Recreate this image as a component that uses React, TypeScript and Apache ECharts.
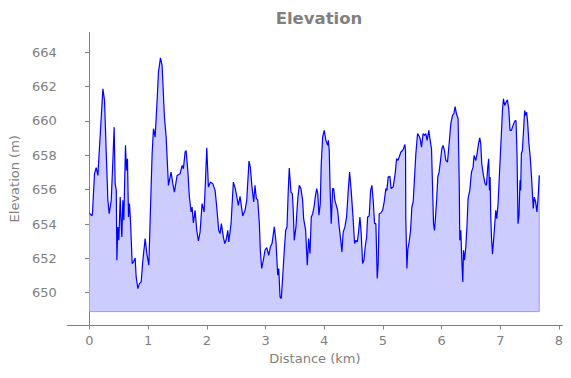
import React, { useEffect, useRef } from "react";
import * as echarts from "echarts";

const distanceKm: number[] = [
  0, 0.04, 0.05, 0.085, 0.114, 0.143, 0.17, 0.2, 0.228, 0.256, 0.284, 0.313, 0.335, 0.37, 0.398, 0.42,
  0.437, 0.456, 0.466, 0.483, 0.5, 0.523, 0.54, 0.551, 0.568, 0.585, 0.596, 0.613, 0.63, 0.647, 0.664,
  0.681, 0.698, 0.727, 0.75, 0.778, 0.795, 0.824, 0.851, 0.88, 0.909, 0.948, 0.977, 1.011, 1.038, 1.067,
  1.09, 1.118, 1.152, 1.175, 1.209, 1.237, 1.277, 1.306, 1.345, 1.39, 1.42, 1.447, 1.493, 1.544,
  1.578, 1.6, 1.629, 1.646, 1.675, 1.702, 1.731, 1.748, 1.77, 1.799, 1.828, 1.855, 1.884, 1.918, 1.952,
  1.974, 1.998, 2.026, 2.06, 2.1, 2.14, 2.168, 2.202, 2.225, 2.247, 2.281, 2.305, 2.327, 2.356, 2.373,
  2.412, 2.451, 2.485, 2.536, 2.565, 2.611, 2.65, 2.679, 2.718, 2.74, 2.769, 2.798, 2.82, 2.843, 2.866,
  2.894, 2.911, 2.934, 2.962, 2.99, 3.02, 3.054, 3.081, 3.11, 3.149,
  3.178, 3.207, 3.225, 3.246, 3.268, 3.292, 3.319, 3.343, 3.365, 3.387, 3.404, 3.433, 3.456, 3.472,
  3.489, 3.518, 3.547, 3.574, 3.603, 3.632, 3.649, 3.683, 3.711, 3.734, 3.757, 3.779, 3.803, 3.83,
  3.847, 3.871, 3.89, 3.91, 3.932, 3.949, 3.973, 4.0, 4.029, 4.058, 4.07, 4.085, 4.1, 4.119, 4.143,
  4.16, 4.182, 4.205, 4.228, 4.255, 4.284, 4.301, 4.323, 4.352, 4.381, 4.409, 4.432, 4.459, 4.488,
  4.517, 4.54, 4.563, 4.585, 4.608, 4.63, 4.654, 4.676, 4.698, 4.722, 4.739, 4.766, 4.79,
  4.812, 4.834, 4.858, 4.88, 4.903, 4.919, 4.936, 4.965, 4.994, 5.021, 5.05, 5.068, 5.089, 5.118,
  5.14, 5.174, 5.209, 5.232, 5.255, 5.277, 5.306, 5.334, 5.35, 5.374, 5.385, 5.39, 5.408, 5.425,
  5.447, 5.471, 5.493, 5.515, 5.539, 5.561, 5.59, 5.61, 5.634, 5.657, 5.685, 5.71, 5.731, 5.753,
  5.782, 5.805, 5.828, 5.845, 5.862, 5.879, 5.896, 5.918, 5.935, 5.957, 5.981, 6.003, 6.025, 6.049,
  6.072, 6.1, 6.128, 6.157, 6.186, 6.21, 6.23, 6.253, 6.281,
  6.3, 6.31, 6.327, 6.344, 6.361, 6.373, 6.39, 6.412, 6.434, 6.451, 6.48, 6.509, 6.536, 6.553, 6.582,
  6.605, 6.628, 6.65, 6.667, 6.684, 6.713, 6.74, 6.764, 6.786, 6.803, 6.815, 6.826, 6.838, 6.85, 6.867,
  6.894, 6.923, 6.94, 6.962, 6.991, 7.02, 7.037, 7.054, 7.076, 7.098, 7.121, 7.144, 7.166, 7.19, 7.217,
  7.246, 7.268, 7.285, 7.302, 7.319, 7.336, 7.347, 7.359, 7.376, 7.393, 7.415, 7.432, 7.449, 7.466,
  7.488, 7.51, 7.534, 7.562, 7.579, 7.602, 7.624, 7.647, 7.664,
];

const elevationM: number[] = [
  654.64, 654.47, 654.6, 656.93, 657.28, 656.83, 658.48, 660.22, 661.87, 661.19, 658.28, 655.38, 654.6, 655.38, 657.7, 659.64,
  656.35, 655.96, 651.89, 653.83, 653.05, 655.57, 654.02, 653.24, 655.38, 654.22, 655.96, 658.58, 657.12, 657.8, 654.41,
  655.19, 654.22, 651.7, 651.8, 652.02, 650.92, 650.24, 650.53, 650.63, 651.89, 653.15, 652.28, 651.6, 654.8, 658.09,
  659.55, 659.06, 661.19, 662.84, 663.67, 663.23, 660.22, 659.06, 656.25, 657.02, 656.35, 655.86, 656.83, 656.93,
  657.41, 657.22, 658.19, 658.28, 657.12, 655.57, 654.7, 654.99, 654.06, 654.8, 653.63, 653.01, 653.53, 655.19, 654.7,
  656.35, 658.44, 656.15, 656.44, 656.35, 655.96, 654.99, 653.63, 653.44, 654.02, 653.24, 652.86, 653.05, 653.63, 652.95,
  654.02, 656.44, 656.06, 655.09, 655.61, 654.47, 654.8, 655.38, 657.66, 657.31, 656.15, 655.28, 656.25, 655.48, 655.42,
  654.02, 652.47, 651.41, 651.89, 652.47, 652.63, 652.18, 652.66, 652.86, 653.83,
  652.95, 651.02, 651.41, 649.76, 649.66, 650.92, 652.47, 653.63, 653.83, 655.96, 657.26, 655.86, 655.77, 654.8,
  653.05, 653.83, 655.38, 656.25, 656.06, 655.38, 654.31, 653.63, 651.6, 653.15, 652.28, 654.41, 654.6, 655.09,
  655.57, 656.06, 655.77, 654.51, 655.19, 657.51, 659.06, 659.45, 658.87, 658.58, 658.87, 658.28, 656.0, 654.02, 656.06,
  656.06, 655.38, 655.09, 654.8, 653.83, 652.95, 652.37, 653.53, 653.83, 654.41, 655.96, 657.02, 655.96, 654.51,
  652.86, 653.05, 652.95, 653.53, 654.41, 653.44, 651.7, 651.89, 652.66, 653.24, 654.41, 654.47, 655.96,
  656.25, 655.38, 654.02, 654.02, 650.83, 651.7, 654.6, 654.64, 654.8, 655.28, 656.06, 655.96, 656.73, 656.77,
  656.06, 656.15, 656.93, 657.8, 657.7, 657.9, 658.19, 658.28, 658.38, 658.63, 658.28, 654.31, 651.41, 652.57,
  652.95, 653.63, 654.99, 655.28, 656.73, 658.09, 659.26, 659.16, 658.97, 658.48, 659.26, 659.16, 659.26, 658.87,
  659.45, 658.87, 658.38, 656.25, 654.02, 653.63, 654.41, 655.57, 656.73, 657.02, 657.7, 658.38, 658.58, 658.28,
  657.7, 657.6, 658.67, 659.84, 660.32, 660.42, 660.84, 660.42, 660.13,
  656.5, 653.05, 653.63, 651.89, 650.63, 652.47, 651.89, 652.66, 654.02, 655.48, 655.96, 657.02, 657.31, 657.99, 657.7,
  658.1, 658.67, 659.02, 658.67, 657.51, 656.83, 656.35, 656.25, 657.31, 657.8, 655.96, 656.73, 654.41, 653.24, 652.24,
  653.44, 654.8, 654.31, 655.19, 657.31, 659.35, 660.61, 661.29, 660.9, 661.09, 661.23, 660.71, 659.45, 659.45, 659.74,
  659.99, 660.03, 658.09, 654.02, 654.51, 656.54, 655.96, 658.09, 658.28, 659.26, 660.61, 660.32, 660.51, 659.93,
  658.67, 657.9, 656.64, 654.9, 655.57, 655.28, 654.7, 655.67, 656.83,
];

const fillBase = 648.9;
const xTicks: number[] = [0, 1, 2, 3, 4, 5, 6, 7, 8];
const yTicks: number[] = [650, 652, 654, 656, 658, 660, 662, 664];

const TITLE = "Elevation";
const X_NAME = "Distance (km)";
const Y_NAME = "Elevation (m)";

export default function App() {
  const ref = useRef<HTMLDivElement>(null);
  useEffect(() => {
    if (!ref.current) return;
    const chart = echarts.init(ref.current, null, { renderer: "svg" });
    const profile = distanceKm.map((d, i) => [d, elevationM[i]]);
    const last = distanceKm.length - 1;
    const outline = [
      [distanceKm[0], elevationM[0]],
      [distanceKm[0], fillBase],
      [distanceKm[last], fillBase],
      [distanceKm[last], elevationM[last]],
    ];
    const gray = "#808080";
    const font = "DejaVu Sans";
    chart.setOption({
      animation: false,
      backgroundColor: "#ffffff",
      title: {
        text: TITLE,
        left: 314,
        textAlign: "center",
        top: 5,
        textStyle: { fontFamily: font, fontSize: 16.5, fontWeight: "bold", color: gray },
      },
      grid: { left: 67, right: 8.5, top: 32.5, bottom: 53 },
      xAxis: {
        type: "value",
        min: -0.38,
        max: 8.06,
        name: X_NAME,
        nameLocation: "middle",
        nameGap: 27,
        nameTextStyle: { fontFamily: font, fontSize: 13, color: gray },
        axisLine: { show: true, lineStyle: { color: gray, width: 1 } },
        axisTick: { show: true, length: 4.5, customValues: xTicks, lineStyle: { color: gray } },
        axisLabel: { customValues: xTicks, margin: 9, fontFamily: font, fontSize: 13, color: gray },
        splitLine: { show: false },
      },
      yAxis: {
        type: "value",
        min: 648.12,
        max: 665.15,
        name: Y_NAME,
        nameLocation: "middle",
        nameGap: 43,
        nameTextStyle: { fontFamily: font, fontSize: 13, color: gray },
        axisLine: { show: true, lineStyle: { color: gray, width: 1 } },
        axisTick: { show: true, length: 4.5, customValues: yTicks, lineStyle: { color: gray } },
        axisLabel: { customValues: yTicks, margin: 10.5, fontFamily: font, fontSize: 13, color: gray },
        splitLine: { show: false },
      },
      series: [
        {
          type: "line",
          data: outline,
          symbol: "none",
          lineStyle: { color: "#aaaaff", width: 1 },
          silent: true,
          z: 1,
        },
        {
          type: "line",
          data: profile,
          symbol: "none",
          lineStyle: { color: "#0000ff", width: 1.2 },
          areaStyle: { color: "rgba(0,0,255,0.2)", origin: fillBase, opacity: 1 },
          z: 2,
        },
      ],
    });
    return () => chart.dispose();
  }, []);
  return <div ref={ref} style={{ position: "fixed", left: 0, top: 0, width: 571, height: 378 }} />;
}
